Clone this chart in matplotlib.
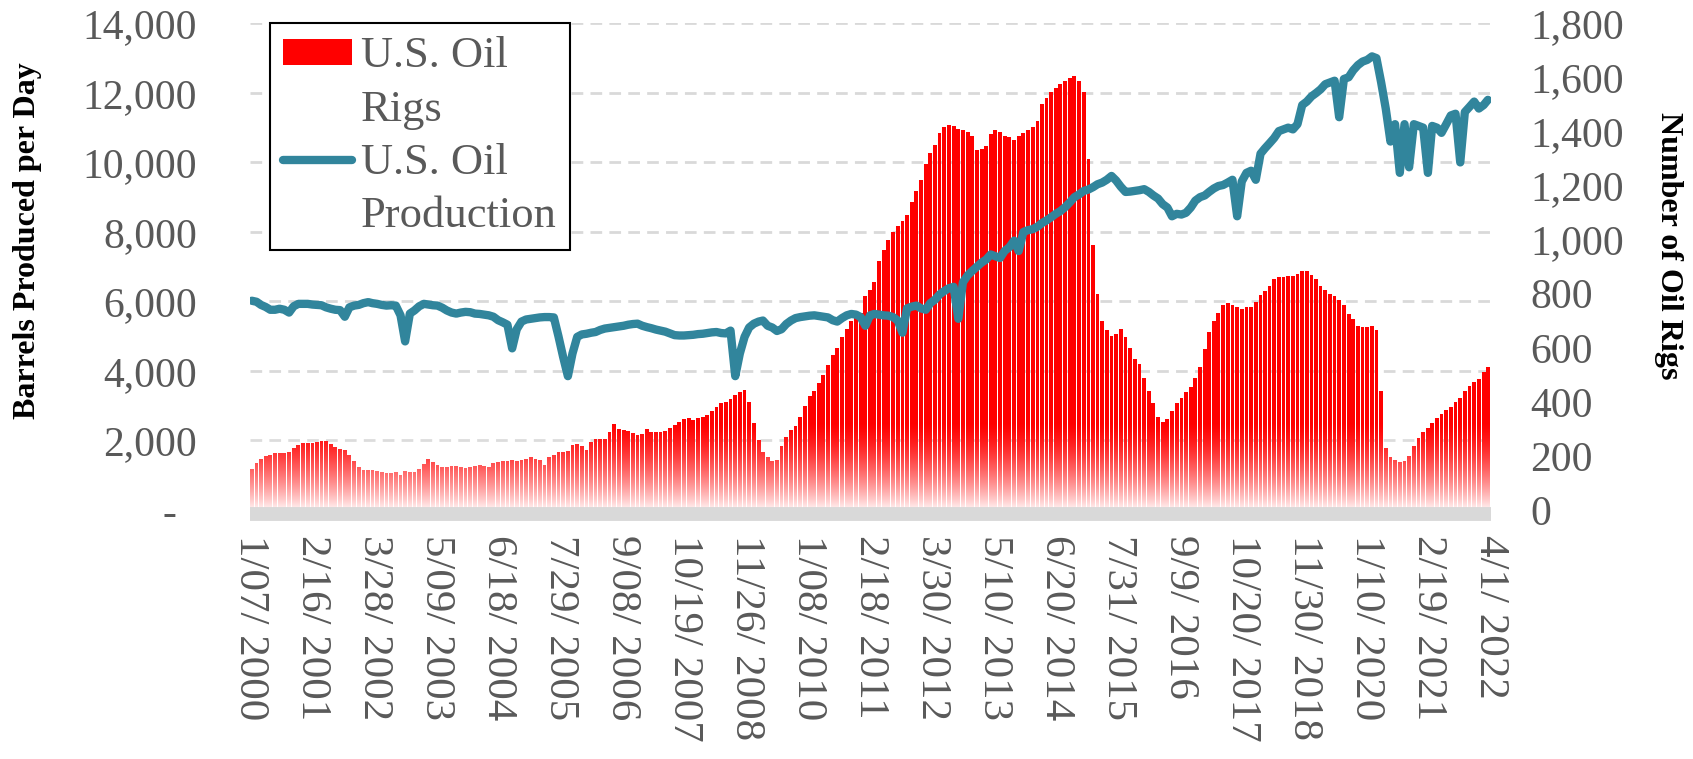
import numpy as np
import pandas as pd
import matplotlib
matplotlib.use('Agg')
import matplotlib.pyplot as plt
import matplotlib.dates as mdates
from matplotlib.patches import Patch
from matplotlib.lines import Line2D
from matplotlib.ticker import FuncFormatter

plt.rcParams['font.family'] = ['Liberation Serif', 'DejaVu Serif']

# monthly values, Jan 2000 .. Mar 2022
rigs = [
    150, 175, 190, 200, 205, 210, 212, 210, 215, 228, 240, 248,            # 2000
    246, 248, 250, 255, 256, 245, 232, 224, 220, 205, 180, 158,            # 2001
    148, 148, 147, 146, 141, 137, 138, 140, 128, 146, 142, 140,            # 2002
    150, 170, 188, 178, 165, 160, 160, 162, 161, 158, 155, 158,            # 2003
    162, 168, 164, 160, 175, 178, 180, 183, 185, 180, 184, 188,            # 2004
    195, 190, 185, 165, 195, 205, 215, 215, 218, 240, 244, 235,            # 2005
    222, 250, 262, 264, 262, 290, 318, 300, 295, 292, 285, 278,            # 2006
    282, 300, 290, 288, 290, 292, 305, 315, 326, 338, 342, 334,            # 2007
    340, 345, 350, 365, 380, 395, 400, 412, 425, 435, 442, 400,            # 2008
    320, 260, 215, 195, 180, 185, 235, 270, 295, 310, 345, 385,            # 2009
    420, 440, 470, 500, 535, 575, 600, 640, 670, 700, 715, 730,            # 2010
    790, 815, 845, 920, 960, 1000, 1030, 1050, 1070, 1090, 1140, 1180,     # 2011
    1220, 1280, 1320, 1350, 1395, 1415, 1425, 1420, 1410, 1405, 1400, 1385,  # 2012
    1330, 1335, 1345, 1390, 1405, 1400, 1385, 1380, 1370, 1385, 1395, 1405,  # 2013
    1415, 1440, 1500, 1525, 1545, 1560, 1575, 1585, 1598, 1605, 1585, 1545,  # 2014
    1300, 980, 800, 700, 665, 645, 650, 670, 640, 600, 560, 540,           # 2015
    490, 440, 395, 345, 325, 335, 365, 395, 415, 435, 455, 490,            # 2016
    530, 595, 660, 700, 730, 760, 765, 760, 750, 745, 750, 752,            # 2017
    770, 795, 810, 830, 855, 862, 862, 864, 866, 872, 885, 885,            # 2018
    870, 855, 830, 815, 800, 790, 775, 760, 725, 705, 680, 678,            # 2019
    675, 680, 665, 440, 230, 195, 185, 178, 180, 200, 235, 265,            # 2020
    290, 305, 320, 340, 355, 370, 380, 400, 415, 440, 460, 475,            # 2021
    485, 510, 530,                                                         # 2022
]

production = [
    6020, 5990, 5900, 5840, 5760, 5760, 5790, 5760, 5680, 5860, 5930, 5930,
    5930, 5910, 5900, 5890, 5830, 5790, 5760, 5750, 5560, 5830, 5880, 5900,
    5950, 5980, 5950, 5930, 5900, 5880, 5890, 5880, 5600, 4850, 5650, 5740,
    5860, 5930, 5910, 5890, 5880, 5820, 5740, 5680, 5650, 5680, 5700, 5690,
    5650, 5640, 5620, 5600, 5560, 5460, 5400, 5330, 4650, 5200, 5420, 5480,
    5500, 5520, 5540, 5550, 5550, 5540, 5000, 4400, 3850, 4500, 4980, 5050,
    5070, 5100, 5120, 5180, 5220, 5240, 5260, 5280, 5300, 5330, 5350, 5360,
    5300, 5260, 5230, 5190, 5160, 5130, 5080, 5030, 5020, 5020, 5030, 5040,
    5060, 5070, 5090, 5110, 5120, 5090, 5080, 5160, 3850, 4500, 4980, 5250,
    5360, 5420, 5450, 5300, 5250, 5150, 5200, 5350, 5450, 5520, 5550, 5570,
    5590, 5600, 5580, 5560, 5540, 5460, 5420, 5520, 5600, 5640, 5620, 5550,
    5300, 5600, 5640, 5620, 5600, 5590, 5550, 5450, 5100, 5800, 5850, 5880,
    5800, 5760, 5950, 6050, 6200, 6300, 6380, 6420, 5500, 6550, 6750, 6880,
    7000, 7120, 7200, 7350, 7300, 7250, 7450, 7560, 7750, 7450, 8000, 8050,
    8080, 8150, 8250, 8330, 8420, 8520, 8600, 8710, 8850, 9000, 9080, 9180,
    9220, 9290, 9370, 9420, 9500, 9610, 9480, 9300, 9150, 9160, 9180, 9200,
    9230, 9150, 9050, 8960, 8800, 8700, 8450, 8520, 8500, 8550, 8700, 8900,
    9000, 9050, 9150, 9250, 9320, 9350, 9420, 9500, 8450, 9450, 9700, 9760,
    9500, 10250, 10400, 10550, 10700, 10900, 10950, 11000, 10950, 11100, 11650, 11750,
    11900, 12000, 12100, 12250, 12300, 12350, 11300, 12400, 12450, 12650, 12800, 12900,
    12950, 13050, 13000, 12300, 11550, 10600, 11100, 9700, 11100, 9860, 11100, 11050,
    11000, 9700, 11050, 11000, 10850, 11100, 11350, 11400, 10000, 11450, 11600, 11750,
    11550, 11650, 11800,
]

xlabels = ['1/07/ 2000', '2/16/ 2001', '3/28/ 2002', '5/09/ 2003', '6/18/ 2004',
           '7/29/ 2005', '9/08/ 2006', '10/19/ 2007', '11/26/ 2008', '1/08/ 2010',
           '2/18/ 2011', '3/30/ 2012', '5/10/ 2013', '6/20/ 2014', '7/31/ 2015',
           '9/9/ 2016', '10/20/ 2017', '11/30/ 2018', '1/10/ 2020', '2/19/ 2021',
           '4/1/ 2022']

months = pd.date_range('2000-01-01', periods=len(rigs), freq='MS') + pd.Timedelta(days=14)
tick_dates = pd.to_datetime([s.replace(' ', '') for s in xlabels], format='%m/%d/%Y')

RED = '#ff0000'
TEAL = '#31859c'
GRAY = '#595959'
GRID = '#d9d9d9'

fig = plt.figure(figsize=(16.93, 7.59), dpi=100)
ax = fig.add_axes([0.1477, 0.3281, 0.7330, 0.6411])
ax2 = ax.twinx()
ax.set_zorder(2)
ax2.set_zorder(1)
ax.patch.set_visible(False)

# bars (right axis)
ax2.bar(months, rigs, width=25, color=RED, linewidth=0, zorder=2)

x0 = tick_dates[0] - pd.Timedelta(days=3.5)
x1 = tick_dates[-1] + pd.Timedelta(days=3.5)

# white fade at the foot of the bars
fade = np.linspace(1, 0, 256)
rgba = np.ones((256, 1, 4))
rgba[:, 0, 3] = 0.96 * fade ** 1.5
ax2.imshow(rgba, extent=(mdates.date2num(x0), mdates.date2num(x1), 0, 330),
           origin='lower', aspect='auto', zorder=3, interpolation='bilinear')

# production line (left axis)
ax.plot(months, production, color=TEAL, lw=6,
        solid_joinstyle='round', solid_capstyle='round')

ax.set_xlim(x0, x1)
ax.set_ylim(0, 14000)
ax2.set_ylim(0, 1800)
ax.set_yticks(np.arange(0, 14001, 2000))
ax2.set_yticks(np.arange(0, 1801, 200))

# gridlines of the left scale, drawn behind the bars
for v in ax.get_yticks()[1:]:
    ax2.add_line(Line2D([0, 1], [v, v], transform=ax.get_yaxis_transform(),
                        color=GRID, lw=2, ls=(0, (4.2, 2.6)), zorder=1))
ax2.set_xlim(x0, x1)
ax2.set_ylim(0, 1800)

for a in (ax, ax2):
    for s in a.spines.values():
        s.set_visible(False)
sp = ax.spines['bottom']
sp.set_visible(True)
sp.set_color(GRID)
sp.set_linewidth(10)
sp.set_capstyle('butt')
sp.set_position(('outward', 3))

ax.set_xticks(tick_dates)
ax.set_xticklabels(xlabels, rotation=-90, ha='center', va='top')
ax.tick_params(axis='x', length=0, pad=15, labelsize=31, labelcolor=GRAY)
ax.tick_params(axis='y', length=0, pad=38, labelsize=30, labelcolor=GRAY)
ax2.tick_params(axis='y', length=0, pad=28, labelsize=30, labelcolor=GRAY)
ax.yaxis.set_major_formatter(FuncFormatter(lambda v, p: f'{v:,.0f}' if v else '-  '))
ax2.yaxis.set_major_formatter(FuncFormatter(lambda v, p: f'{v:,.0f}'))

fig.text(28 / 1693, 1 - 241 / 759, 'Barrels Produced per Day', rotation=90,
         ha='center', va='center', fontsize=23, fontweight='bold')
fig.text(1668 / 1693, 1 - 246 / 759, 'Number of Oil Rigs', rotation=-90,
         ha='center', va='center', fontsize=23, fontweight='bold')

handles = [Patch(facecolor=RED, edgecolor='none'),
           Patch(facecolor='none', edgecolor='none'),
           Line2D([], [], color=TEAL, lw=6, solid_capstyle='round'),
           Patch(facecolor='none', edgecolor='none')]
leg = ax.legend(handles, ['U.S. Oil', 'Rigs', 'U.S. Oil', 'Production'],
                loc='upper left', bbox_to_anchor=(270 / 1693, 1 - 23 / 759),
                bbox_transform=fig.transFigure, borderaxespad=0, fontsize=32,
                labelcolor=GRAY, frameon=True, fancybox=False, edgecolor='black',
                framealpha=1, handlelength=1.55, handleheight=0.52,
                handletextpad=0.2, labelspacing=0.3, borderpad=0.3)
leg.get_frame().set_linewidth(1.5)

fig.savefig('out.png', dpi=100)
